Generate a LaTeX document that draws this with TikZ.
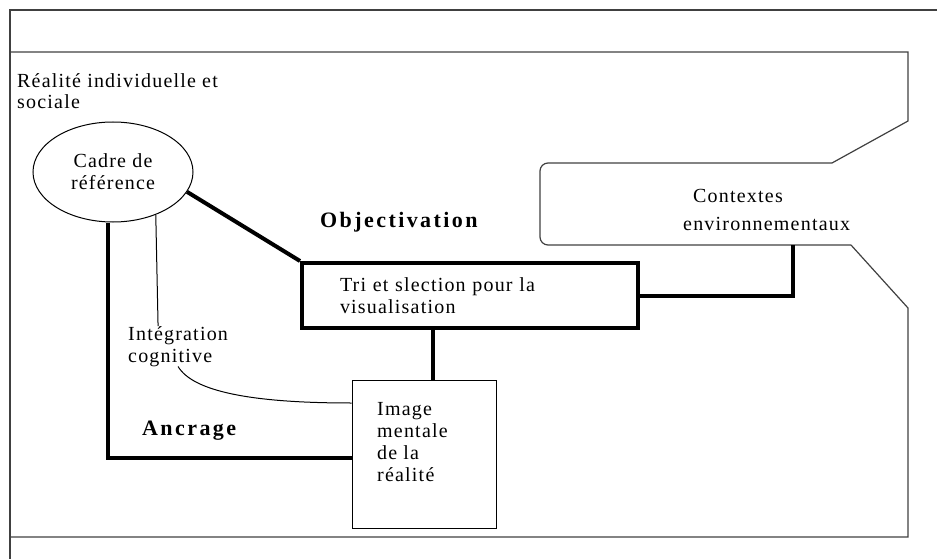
\documentclass[tikz,border=0pt]{standalone}
\usepackage{fontspec}
\setmainfont{Liberation Serif}[LetterSpace=6]
\newfontfamily\boldlabel{Liberation Serif}[LetterSpace=11]
\usetikzlibrary{shapes.geometric}

\tikzset{
  txt/.style={font=\fontsize{20}{21.7}\selectfont, inner sep=0pt, align=left},
  heavy/.style={line width=4pt},
  thin/.style={line width=1pt},
  frame/.style={line width=1.2pt, black!75},
  bigword/.style={font=\boldlabel\bfseries\fontsize{22}{24}\selectfont, inner sep=0pt}
}

\begin{document}
\begin{tikzpicture}[x=1pt,y=-1pt]
  \useasboundingbox (0,0) rectangle (937,559);

  % page frame and the outer shape
  \draw[frame] (937,10) -- (10,10) -- (10,559);
  \draw[frame] (10,537) -- (10,52) -- (908,52) -- (908,121) -- (832,163);
  \draw[frame, rounded corners=8pt] (832,163) -- (540,163) -- (540,245) -- (851,245);
  \draw[frame] (851,245) -- (908,308) -- (908,537) -- (10,537);

  % base anchor of a multi-line node sits on its last line
  \node[txt, anchor=base west] (reality) at (17,109) {Réalité individuelle et\\sociale};

  \node[ellipse, draw, thin, txt, align=center,
        minimum width=160pt, minimum height=100pt] (cadre) at (113,172) {Cadre de\\référence};
  \node[txt, draw, heavy, minimum width=336pt, minimum height=65pt,
        text width=260pt, inner xsep=38pt] (tri) at (470,295.5) {Tri et slection pour la\\visualisation};
  \node[draw, thin, minimum width=144pt, minimum height=148pt] (image) at (424,454) {};
  \node[txt, anchor=base west] (imagetxt) at (377,481) {Image\\mentale\\de la\\réalité};
  \node[txt, anchor=base west] (integ) at (128,362) {Intégration\\cognitive};
  \node[txt, anchor=base west] (ctx) at (683,230) {\hspace{10pt}Contextes\\[6pt]environnementaux};
  \coordinate (ctxb) at (793,245);

  \node[bigword, anchor=base west] (objectivation) at (320,227) {Objectivation};
  \node[bigword, anchor=base west] (ancrage) at (142,435) {Ancrage};

  % links
  \draw[heavy] (cadre.-15) -- (tri.north west);
  \draw[heavy] (tri.east) -| (ctxb);
  \draw[heavy] ([xshift=9pt]image.north) -- ([xshift=9pt]image.north |- tri.south);
  \draw[heavy] ([xshift=-5pt]cadre.south) |- ([yshift=-4pt]image.west);
  \draw[thin] (cadre.-45) -- ([xshift=-20pt]integ.north);
  \draw[thin] (integ.south) .. controls +(15,25) and +(-100,0) .. ([yshift=51pt]image.west);
\end{tikzpicture}
\end{document}
